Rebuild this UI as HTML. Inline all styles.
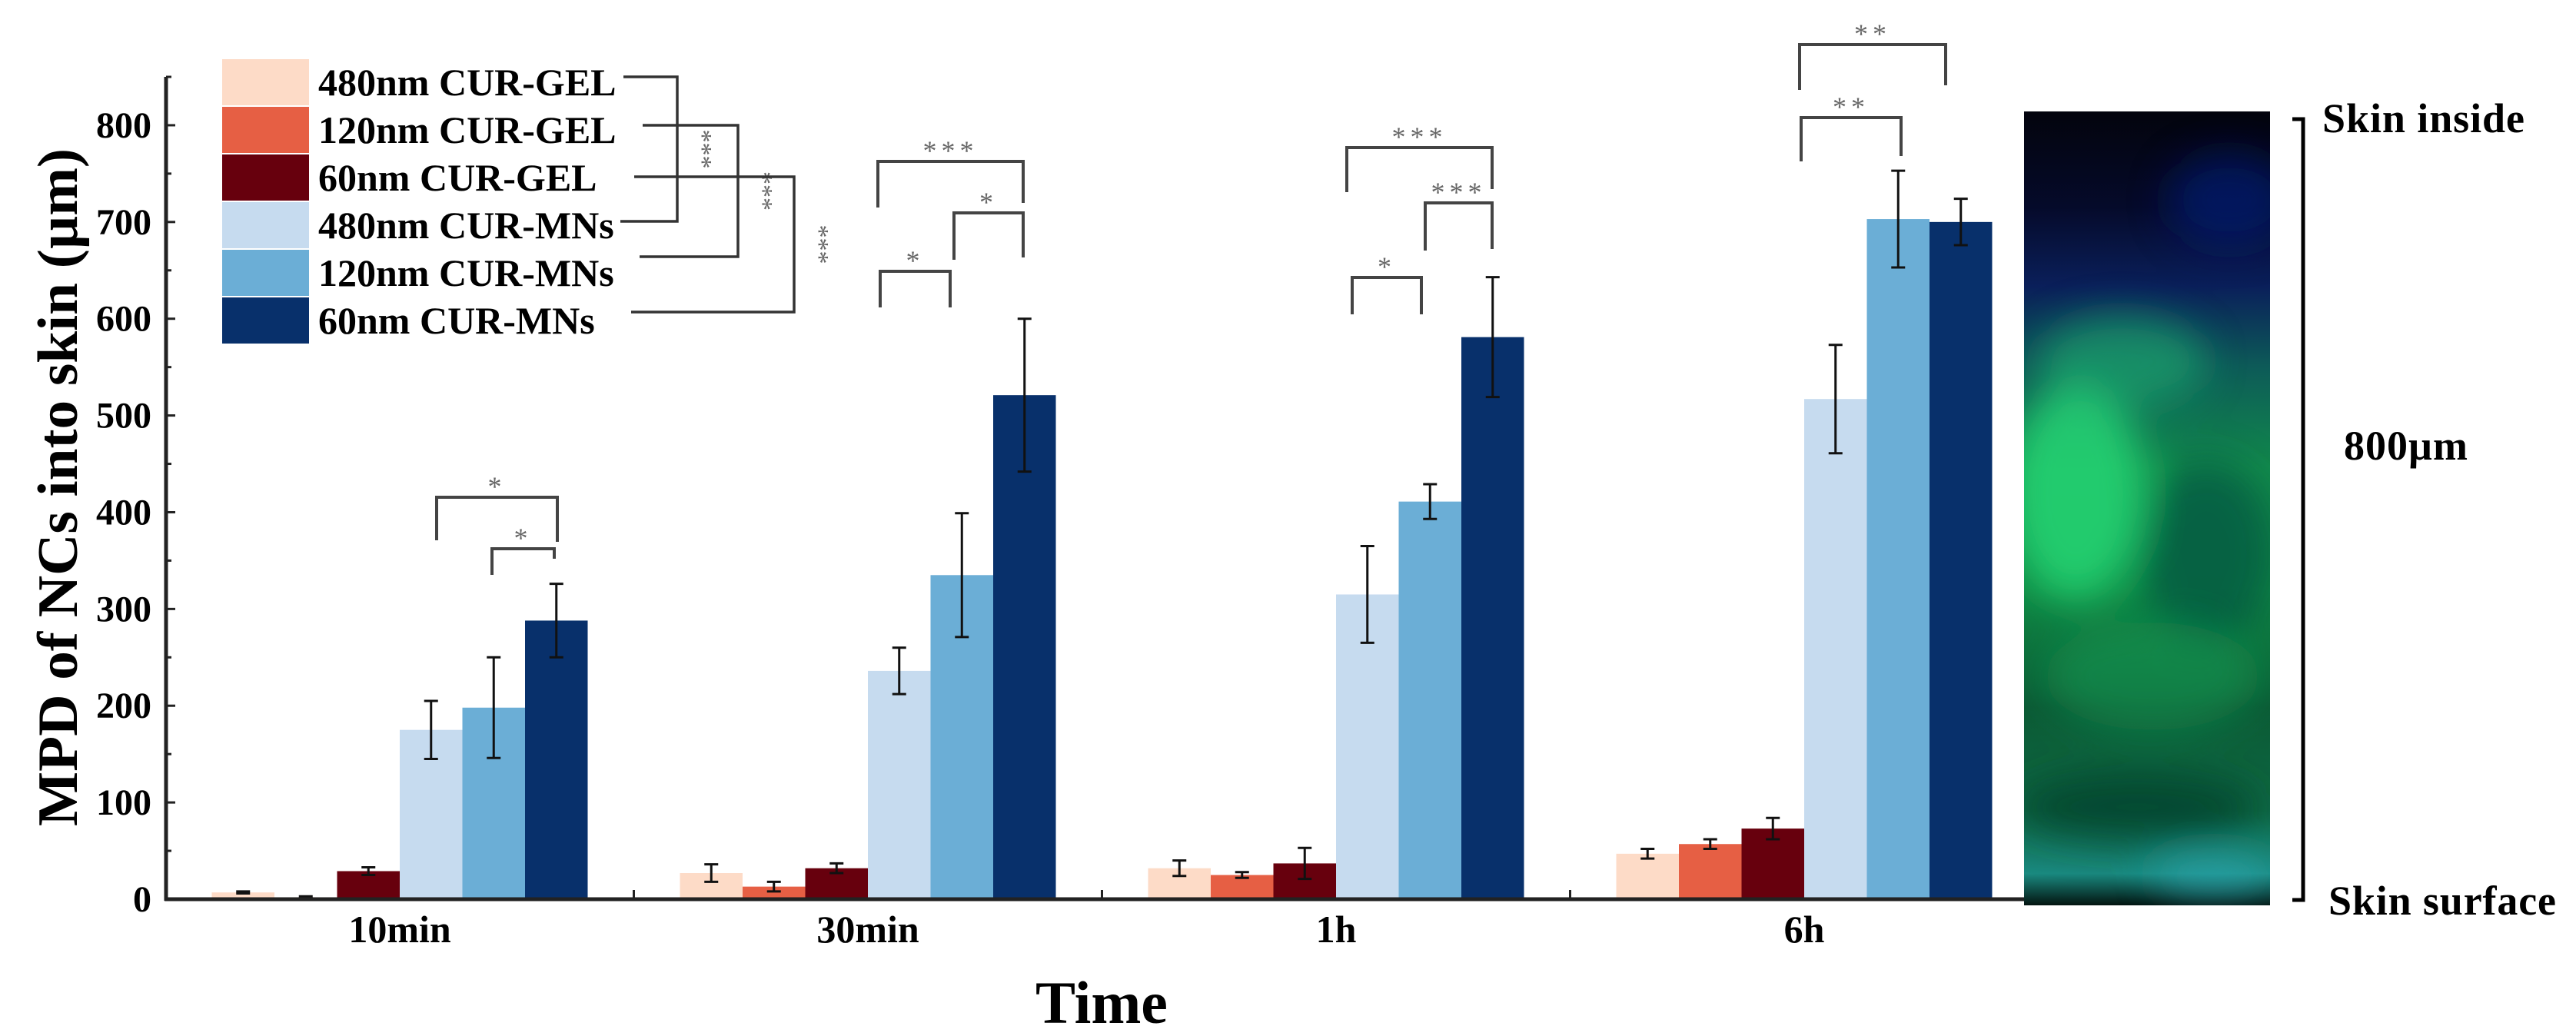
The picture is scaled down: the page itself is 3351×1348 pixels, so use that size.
<!DOCTYPE html>
<html><head><meta charset="utf-8"><style>
html,body{margin:0;padding:0;background:#fff;}
svg{display:block;font-family:"Liberation Serif",serif;}
</style></head><body>
<svg id="chart" width="3351" height="1348" viewBox="0 0 3351 1348" xmlns="http://www.w3.org/2000/svg">
<defs>
<linearGradient id="skinBase" x1="0" y1="0" x2="0" y2="1">
<stop offset="0" stop-color="#03040d"/>
<stop offset="0.12" stop-color="#050a2a"/>
<stop offset="0.22" stop-color="#0a1f5a"/>
<stop offset="0.32" stop-color="#0d5a58"/>
<stop offset="0.45" stop-color="#118a4c"/>
<stop offset="0.6" stop-color="#0f8a45"/>
<stop offset="0.75" stop-color="#0c5a35"/>
<stop offset="0.88" stop-color="#0e6a45"/>
<stop offset="0.96" stop-color="#1a8a80"/>
<stop offset="1" stop-color="#031410"/>
</linearGradient>
<filter id="blur" x="-20%" y="-20%" width="140%" height="140%"><feGaussianBlur stdDeviation="25"/></filter>
<clipPath id="skinClip"><rect x="2633" y="145" width="320" height="1033"/></clipPath>
</defs>
<g id="plot"></g>
<g clip-path="url(#skinClip)">
<rect x="2633" y="145" width="320" height="1033" fill="url(#skinBase)"/>
<g filter="url(#blur)">
<ellipse cx="2700" cy="640" rx="90" ry="140" fill="#25e07a" opacity="0.75"/>
<ellipse cx="2760" cy="470" rx="110" ry="60" fill="#1fb070" opacity="0.6"/>
<ellipse cx="2870" cy="720" rx="90" ry="120" fill="#0a4a40" opacity="0.6"/>
<ellipse cx="2800" cy="880" rx="140" ry="70" fill="#15a055" opacity="0.5"/>
<ellipse cx="2780" cy="1050" rx="160" ry="45" fill="#063a26" opacity="0.7"/>
<ellipse cx="2880" cy="1140" rx="80" ry="25" fill="#30b0c0" opacity="0.6"/>
<ellipse cx="2900" cy="260" rx="80" ry="60" fill="#0a1a80" opacity="0.6"/>
</g>
</g>
<g stroke="#000" stroke-width="5" fill="none">
<path d="M2982 155 L2996 155 L2996 1171 L2982 1171"/>
</g>
<text x="3021" y="172" font-size="54" font-weight="bold" textLength="263">Skin inside</text>
<text x="3049" y="598" font-size="54" font-weight="bold" textLength="161">800µm</text>
<text x="3029" y="1190" font-size="54" font-weight="bold" textLength="296">Skin surface</text>
</svg>
<script>
const categories = ["10min", "30min", "1h", "6h"];
const seriesNames = ["480nm CUR-GEL", "120nm CUR-GEL", "60nm CUR-GEL", "480nm CUR-MNs", "120nm CUR-MNs", "60nm CUR-MNs"];
const seriesColors = ["#fddbc7", "#e65f44", "#67000d", "#c6dbef", "#6baed6", "#08306b"];
const gel480 = [7, 27, 32, 47];
const gel120 = [2, 13, 25, 57];
const gel60 = [29, 32, 37, 73];
const mn480 = [175, 236, 315, 517];
const mn120 = [198, 335, 411, 703];
const mn60 = [288, 521, 581, 700];
const err480gel = [1, 9, 8, 5];
const err120gel = [1, 5, 3, 5];
const err60gel = [4, 5, 16, 11];
const err480mn = [30, 24, 50, 56];
const err120mn = [52, 64, 18, 50];
const err60mn = [38, 79, 62, 24];
const yTicks = [0, 100, 200, 300, 400, 500, 600, 700, 800];

const values = [gel480, gel120, gel60, mn480, mn120, mn60];
const errors = [err480gel, err120gel, err60gel, err480mn, err120mn, err60mn];
const NS = "http://www.w3.org/2000/svg";
const g = document.getElementById("plot");
const X0 = 216, X1 = 2633, Y0 = 1170, PXU = 1.2588;
const GROUP0 = 520, GSTEP = 609, BW = 81.5;
function y(v){ return Y0 - v * PXU; }
function xc(i){ return GROUP0 + GSTEP * i; }
function bx(i, s){ return xc(i) + (s - 3) * BW; }
function el(tag, attrs, parent){
  const e = document.createElementNS(NS, tag);
  for (const k in attrs) e.setAttribute(k, attrs[k]);
  (parent || g).appendChild(e);
  return e;
}
// bars
for (let s = 0; s < 6; s++) {
  for (let i = 0; i < categories.length; i++) {
    const v = values[s][i];
    const r = el("rect", {x: bx(i, s), y: y(v), width: BW, height: Y0 - y(v), fill: seriesColors[s]});
    
    
  }
}
// error bars
for (let s = 0; s < 6; s++) {
  for (let i = 0; i < categories.length; i++) {
    const v = values[s][i], e = errors[s][i];
    const cx = bx(i, s) + BW / 2;
    const eg = el("g", {stroke: "#111", "stroke-width": 3});
    
    
    el("line", {x1: cx, x2: cx, y1: y(v + e), y2: y(v - e)}, eg);
    el("line", {x1: cx - 9, x2: cx + 9, y1: y(v + e), y2: y(v + e)}, eg);
    el("line", {x1: cx - 9, x2: cx + 9, y1: y(v - e), y2: y(v - e)}, eg);
  }
}
// axes
const ax = el("g", {stroke: "#222", "stroke-width": 5, fill: "none"});


el("line", {x1: X0, x2: X0, y1: y(850), y2: Y0 + 2}, ax);
el("line", {x1: X0 - 2, x2: X1, y1: Y0, y2: Y0}, ax);
for (let t = 0; t <= 850; t += 50) {
  el("line", {x1: X0, x2: X0 + (t % 100 === 0 ? 12 : 7), y1: y(t), y2: y(t), "stroke-width": 3}, ax);
}
for (let i = 0; i < categories.length - 1; i++) {
  const tx = (xc(i) + xc(i + 1)) / 2;
  el("line", {x1: tx, x2: tx, y1: Y0, y2: Y0 - 12, "stroke-width": 3}, ax);
}
yTicks.forEach(t => {
  const tl = el("text", {x: 197, y: y(t) + 16, "font-size": 48, "font-weight": "bold", "text-anchor": "end"});
  tl.textContent = t;
  
  
});
categories.forEach((c, i) => {
  const tl = el("text", {x: xc(i), y: 1226, "font-size": 50, "font-weight": "bold", "text-anchor": "middle"});
  tl.textContent = c;
  
  
});
const xt = el("text", {x: 1433, y: 1331, "font-size": 78, "font-weight": "bold", "text-anchor": "middle"});
xt.textContent = "Time";


const yt = el("text", {x: 0, y: 0, "font-size": 74, "font-weight": "bold", "text-anchor": "middle", transform: "translate(100,634) rotate(-90)", textLength: 882, lengthAdjust: "spacingAndGlyphs"});
yt.textContent = "MPD of NCs into skin (µm)";


// legend
seriesNames.forEach((n, s) => {
  const top = 77 + s * 62;
  const lg = el("g", {});
  
  
  el("rect", {x: 289, y: top, width: 113, height: 60, fill: seriesColors[s]}, lg);
  const t = el("text", {x: 414, y: top + 47, "font-size": 50, "font-weight": "bold"}, lg);
  t.textContent = n;
});
// significance brackets [x1, x2, topY, leftLegY, rightLegY, label]
const brackets = [
  [821, 881, 100, 288, 288, "***", "v"],
  [846, 960, 163, 334, 334, "***", "v"],
  [835, 1033, 230, 406, 406, "***", "v"],
  [568, 725, 647, 703, 705, "*"],
  [640, 721, 714, 748, 727, "*"],
  [1142, 1331, 210, 270, 264, "***"],
  [1241, 1331, 277, 338, 335, "*"],
  [1145, 1236, 353, 400, 400, "*"],
  [1752, 1941, 192, 250, 246, "***"],
  [1854, 1941, 264, 326, 324, "***"],
  [1759, 1849, 361, 409, 409, "*"],
  [2341, 2531, 58, 117, 111, "**"],
  [2343, 2473, 153, 210, 203, "**"]
];
brackets.forEach((b, k) => {
  const bg = el("g", {});
  
  
  if (b[6] === "v") {
    el("path", {d: `M${b[0] - 10} ${b[2]} L${b[1]} ${b[2]} L${b[1]} ${b[3]} L${b[0] - 14} ${b[3]}`, stroke: "#333", "stroke-width": 3.5, fill: "none"}, bg);
    const t = el("text", {x: 0, y: 0, "font-size": 34, fill: "#666", "text-anchor": "middle", transform: `translate(${b[1] + 22},${(b[2] + b[3]) / 2}) rotate(90)`}, bg);
    t.textContent = b[5];
  } else {
    el("path", {d: `M${b[0]} ${b[3]} L${b[0]} ${b[2]} L${b[1]} ${b[2]} L${b[1]} ${b[4]}`, stroke: "#444", "stroke-width": 4, fill: "none"}, bg);
    const t = el("text", {x: (b[0] + b[1]) / 2, y: b[2] - 2, "font-size": 36, fill: "#666", "text-anchor": "middle", "letter-spacing": 6}, bg);
    t.textContent = b[5];
  }
});
</script>
</body></html>
